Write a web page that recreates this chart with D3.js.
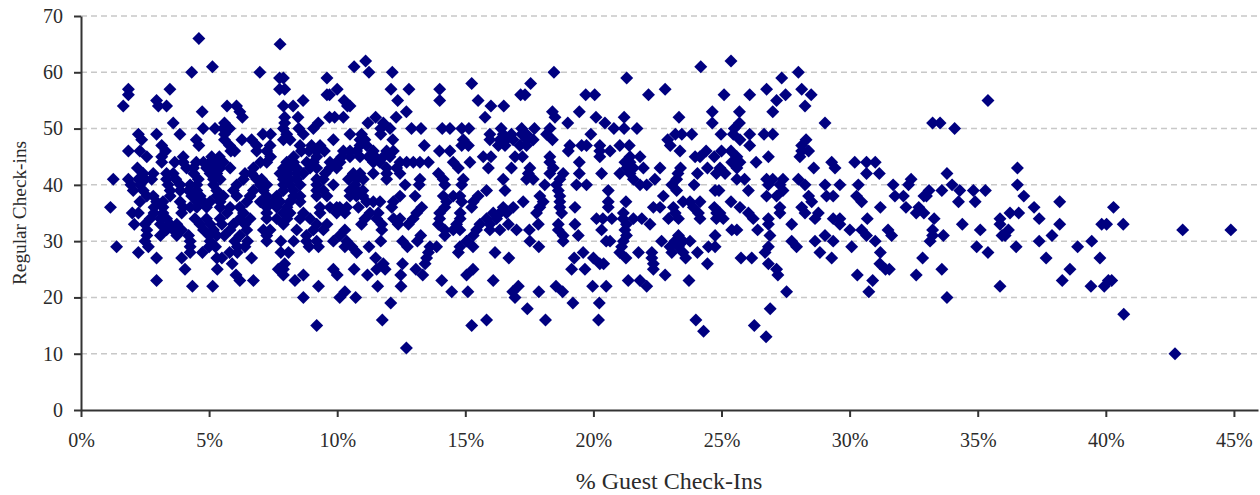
<!DOCTYPE html>
<html lang="en">
<head>
<meta charset="utf-8">
<title>Guest vs Regular Check-ins</title>
<script src="https://d3js.org/d3.v7.min.js"></script>
<style>
    html, body { margin: 0; padding: 0; background: #fff; overflow: hidden; }
    svg { display: block; }
    text { font-family: "Liberation Serif", "Times New Roman", serif; fill: #2b2b2b; }
    .axis text { font-size: 20px; }
    .axis path, .axis line { stroke: #333; stroke-width: 2px; }
    .grid line { stroke: #c8c8c8; stroke-width: 1.5px; stroke-dasharray: 6 4; }
    .x-title { font-size: 24px; }
    .y-title { font-size: 19.3px; }
</style>
</head>
<body>
<svg id="chart" width="1260" height="495"></svg>
<script>
// guest check-in % of each point, grouped by its regular check-in count
const r10 = [42.7];
const r11 = [12.7];
const r13 = [26.74];
const r14 = [24.3];
const r15 = [9.2, 15.25, 26.28];
const r16 = [11.76, 15.83, 18.13, 20.2, 24.0];
const r17 = [40.7];
const r18 = [17.42, 26.9];
const r19 = [12.09, 19.2, 20.23];
const r20 = [8.68, 10.1, 10.72, 16.94, 33.8];
const r21 = [10.3, 14.47, 15.1, 16.85, 17.87, 18.8, 27.54, 30.75];
const r22 = [4.35, 5.14, 9.27, 11.58, 12.49, 17.07, 18.54, 19.97, 20.5, 22.08, 35.87, 39.42, 39.94];
const r23 = [2.95, 6.2, 6.73, 8.35, 14.08, 16.09, 21.36, 21.82, 23.73, 30.9, 38.3, 40.23, 40.1];
const r24 = [6.05, 7.9, 8.68, 10.0, 11.18, 12.48, 13.34, 15.05, 22.8, 27.2, 30.3, 32.6];
const r25 = [4.06, 5.32, 7.7, 7.9, 9.85, 10.66, 11.54, 11.87, 13.07, 15.3, 19.15, 19.67, 22.34, 27.15, 31.4, 31.55, 33.6, 38.6];
const r26 = [5.9, 7.95, 11.8, 12.55, 13.43, 20.25, 20.4, 22.34, 24.45, 26.83, 31.18];
const r27 = [2.95, 3.93, 5.3, 5.5, 6.66, 11.5, 13.49, 16.7, 19.25, 20.0, 21.27, 22.28, 23.6, 25.76, 26.18, 29.3, 32.85, 37.67, 39.77];
const r28 = [2.24, 4.26, 4.74, 5.8, 6.1, 7.8, 8.1, 10.76, 13.56, 14.73, 16.16, 19.6, 21.03, 21.76, 22.28, 23.06, 23.5, 24.06, 26.7, 28.84, 31.2, 35.4];
const r29 = [1.39, 2.63, 4.26, 5.0, 5.25, 6.1, 6.4, 8.9, 9.27, 10.3, 10.57, 11.24, 12.74, 13.62, 13.88, 14.79, 15.3, 17.87, 21.1, 22.99, 23.32, 24.49, 24.75, 26.83, 27.93, 30.08, 34.96, 36.5, 38.9];
const r30 = [2.5, 4.26, 5.04, 6.0, 6.5, 7.25, 7.8, 8.3, 8.8, 9.2, 9.85, 10.37, 11.7, 12.55, 13.13, 15.05, 17.52, 18.82, 20.5, 20.65, 21.17, 22.66, 23.18, 23.5, 23.77, 27.74, 28.65, 29.36, 31.0, 33.14, 37.4, 39.45];
const r31 = [2.57, 3.1, 3.74, 4.2, 5.0, 5.3, 5.6, 6.2, 7.25, 8.8, 10.1, 13.26, 14.2, 15.31, 18.82, 19.41, 21.29, 23.32, 24.75, 26.89, 29.04, 30.66, 31.64, 33.24, 33.66, 35.95, 36.07, 37.9];
const r32 = [2.57, 3.34, 3.6, 3.93, 4.78, 5.17, 5.82, 6.47, 7.12, 7.38, 8.42, 9.07, 9.46, 10.3, 11.74, 14.2, 14.53, 14.79, 15.44, 15.96, 16.35, 17.0, 17.5, 18.63, 20.32, 21.23, 25.4, 25.6, 26.41, 30.01, 30.47, 31.5, 33.24, 35.1, 36.2, 43.0, 44.88];
const r33 = [2.08, 2.5, 3.1, 3.48, 3.74, 4.65, 5.04, 5.5, 5.95, 6.4, 7.9, 9.2, 9.6, 10.95, 11.74, 12.38, 12.78, 13.95, 14.66, 15.57, 15.96, 16.68, 17.85, 18.63, 19.28, 21.29, 22.21, 26.83, 27.74, 29.62, 34.4, 35.87, 38.2, 39.84, 40.03, 40.68];
const r34 = [2.7, 3.1, 3.34, 4.45, 4.9, 5.43, 6.2, 6.6, 7.25, 7.64, 8.04, 8.55, 8.94, 11.08, 11.54, 12.2, 12.45, 12.97, 14.0, 14.8, 15.83, 16.22, 20.12, 20.37, 20.72, 21.16, 21.56, 21.89, 22.93, 23.32, 24.16, 24.8, 25.07, 26.24, 26.83, 28.65, 29.36, 29.62, 30.69, 33.3, 35.87, 37.4];
const r35 = [2.0, 2.24, 2.85, 3.2, 3.93, 5.7, 6.34, 7.25, 7.9, 8.16, 8.68, 9.33, 9.98, 10.3, 11.28, 11.6, 13.1, 14.0, 14.8, 16.09, 16.35, 16.61, 17.78, 18.76, 21.17, 23.19, 24.1, 24.81, 24.94, 26.05, 27.28, 28.26, 28.78, 32.6, 32.9, 36.26, 36.6];
const r36 = [1.15, 2.85, 3.2, 3.99, 4.26, 4.52, 4.9, 5.43, 5.82, 6.2, 7.25, 7.64, 8.04, 9.33, 9.72, 9.98, 10.1, 10.37, 10.83, 12.13, 13.3, 14.2, 15.25, 16.48, 16.87, 17.91, 18.69, 19.28, 20.58, 22.34, 22.6, 23.12, 23.9, 24.72, 25.72, 27.28, 28.13, 31.2, 32.2, 32.7, 37.2, 40.3];
const r37 = [2.3, 2.95, 3.2, 3.87, 4.52, 4.78, 5.04, 5.43, 6.47, 7.0, 7.25, 7.5, 7.77, 8.16, 8.55, 11.15, 11.41, 11.67, 12.19, 14.27, 14.86, 15.31, 17.26, 18.04, 18.69, 20.58, 21.27, 23.5, 23.77, 24.16, 25.37, 28.52, 30.47, 34.25, 34.9, 38.2];
const r38 = [2.57, 2.82, 3.48, 4.32, 4.65, 5.3, 5.56, 6.08, 6.6, 7.25, 7.64, 8.3, 8.55, 9.2, 9.6, 10.5, 10.75, 11.0, 12.45, 13.04, 14.14, 14.53, 14.79, 15.5, 17.91, 18.69, 22.73, 26.76, 27.15, 28.4, 29.1, 29.36, 30.27, 31.77, 32.1, 32.9, 33.0, 36.8];
const r39 = [2.04, 2.43, 3.48, 3.87, 4.2, 4.52, 5.3, 5.95, 6.73, 7.12, 7.9, 8.3, 9.2, 9.46, 10.5, 10.76, 11.0, 15.83, 16.55, 18.63, 20.58, 23.25, 24.75, 24.9, 26.05, 27.4, 33.1, 33.6, 34.3, 34.83, 35.3];
const r40 = [1.95, 2.3, 3.4, 3.87, 4.26, 4.52, 5.17, 6.08, 7.0, 7.25, 7.9, 8.16, 8.55, 9.2, 9.85, 10.7, 12.65, 13.2, 14.2, 14.86, 18.1, 18.56, 19.34, 19.73, 21.82, 22.08, 23.06, 23.93, 26.83, 27.28, 28.26, 29.04, 29.62, 30.34, 31.7, 32.3, 34.0, 36.55];
const r41 = [1.26, 1.85, 2.24, 2.5, 2.76, 3.34, 3.7, 4.58, 5.17, 5.43, 6.34, 6.86, 7.05, 7.9, 8.16, 8.42, 9.2, 9.46, 10.44, 10.76, 11.02, 11.93, 13.23, 14.14, 14.92, 16.48, 17.39, 17.65, 18.69, 21.56, 22.4, 23.25, 25.6, 25.9, 26.76, 27.0, 27.4, 28.0, 32.4];
const r42 = [2.43, 2.82, 3.34, 3.6, 4.4, 5.04, 5.3, 6.4, 6.66, 7.77, 8.03, 8.42, 8.68, 9.53, 10.63, 10.89, 11.41, 11.93, 12.45, 13.95, 17.46, 18.3, 18.82, 19.45, 20.32, 21.03, 21.43, 23.3, 24.06, 24.8, 25.14, 30.66, 31.16, 33.8];
const r43 = [2.2, 4.12, 4.39, 4.9, 5.17, 5.43, 5.82, 6.73, 7.9, 8.16, 8.42, 8.94, 9.2, 9.72, 9.98, 11.93, 12.32, 14.73, 15.9, 16.8, 17.52, 18.43, 21.3, 21.56, 21.95, 22.6, 23.4, 24.45, 24.94, 25.6, 28.6, 29.43, 36.55];
const r44 = [3.15, 3.66, 3.99, 4.5, 4.78, 5.04, 5.3, 5.56, 7.0, 7.25, 8.03, 8.3, 8.81, 9.07, 9.72, 9.98, 10.11, 11.41, 11.67, 12.45, 12.71, 12.97, 13.23, 13.56, 14.53, 15.18, 18.3, 19.45, 21.23, 21.43, 25.4, 25.72, 26.35, 29.3, 30.2, 30.66, 31.0];
const r45 = [2.57, 3.15, 3.99, 5.1, 5.4, 7.4, 8.3, 9.2, 10.18, 10.5, 10.89, 11.22, 11.48, 11.8, 12.06, 15.7, 16.0, 16.94, 17.23, 18.3, 20.25, 21.43, 21.82, 23.97, 24.16, 24.72, 25.6, 26.83, 28.06];
const r46 = [1.85, 2.3, 3.3, 5.85, 6.0, 6.86, 7.25, 8.6, 8.9, 9.2, 9.5, 10.24, 10.5, 10.76, 11.41, 11.93, 12.19, 13.99, 14.4, 19.02, 20.25, 20.65, 23.38, 24.4, 25.0, 25.37, 28.13, 28.4];
const r47 = [3.15, 4.6, 5.8, 6.86, 7.38, 8.55, 9.0, 9.33, 10.89, 11.15, 13.4, 14.86, 15.12, 16.29, 16.55, 17.13, 17.39, 19.08, 19.54, 19.73, 20.25, 21.03, 21.4, 23.0, 26.1, 28.13];
const r48 = [2.37, 4.5, 5.6, 6.28, 6.66, 7.9, 8.16, 9.85, 10.89, 11.08, 12.17, 14.92, 15.96, 16.35, 16.6, 16.87, 17.39, 17.65, 18.4, 22.9, 25.72, 28.3];
const r49 = [2.24, 2.95, 3.86, 5.6, 7.1, 7.4, 8.03, 8.68, 10.5, 10.95, 11.7, 15.96, 16.48, 16.8, 17.2, 17.39, 18.17, 19.9, 23.2, 23.45, 23.84, 24.98, 25.46, 26.1, 26.66, 27.0];
const r50 = [4.77, 5.23, 5.55, 5.8, 7.9, 8.5, 9.07, 11.7, 12.06, 12.9, 13.27, 14.1, 14.4, 14.86, 15.14, 16.4, 17.2, 17.7, 18.3, 20.8, 21.2, 21.7, 25.5, 34.1];
const r51 = [3.6, 5.6, 7.95, 9.26, 11.2, 11.8, 19.0, 20.45, 24.64, 25.7, 29.04, 33.24, 33.53];
const r52 = [6.3, 7.95, 8.47, 9.7, 9.9, 10.24, 11.5, 12.3, 15.77, 18.5, 20.1, 21.2, 23.34];
const r53 = [4.73, 6.2, 12.7, 18.4, 19.45, 24.64, 25.7, 27.0];
const r54 = [1.65, 3.02, 3.34, 5.7, 6.07, 7.9, 8.28, 10.4, 10.5, 16.0, 16.5, 28.26];
const r55 = [2.95, 8.67, 10.27, 12.36, 14.0, 15.5, 27.15, 35.4];
const r56 = [1.85, 9.6, 9.7, 17.16, 17.33, 19.7, 20.05, 22.15, 25.1, 26.1, 27.5, 28.5];
const r57 = [1.85, 3.47, 7.75, 7.95, 10.0, 12.1, 12.8, 14.0, 22.8, 26.76, 28.13];
const r58 = [15.25, 17.55];
const r59 = [7.75, 7.9, 9.6, 21.3, 27.35];
const r60 = [4.32, 6.98, 11.24, 12.15, 18.46, 28.0];
const r61 = [5.13, 10.66, 24.19];
const r62 = [11.11, 25.37];
const r65 = [7.77];
const r66 = [4.6];

const regularCounts = [10, 11, 13, 14, 15, 16, 17, 18, 19, 20, 21, 22, 23, 24, 25, 26, 27, 28, 29, 30, 31, 32, 33, 34, 35, 36, 37, 38, 39, 40, 41, 42, 43, 44, 45, 46, 47, 48, 49, 50, 51, 52, 53, 54, 55, 56, 57, 58, 59, 60, 61, 62, 65, 66];
const guestRows = [r10, r11, r13, r14, r15, r16, r17, r18, r19, r20, r21, r22, r23, r24, r25, r26, r27, r28, r29, r30, r31, r32, r33, r34, r35, r36, r37, r38, r39, r40, r41, r42, r43, r44, r45, r46, r47, r48, r49, r50, r51, r52, r53, r54, r55, r56, r57, r58, r59, r60, r61, r62, r65, r66];

const xTicks = [0, 5, 10, 15, 20, 25, 30, 35, 40, 45];
const yTicks = [0, 10, 20, 30, 40, 50, 60, 70];

const svg = d3.select("#chart");

// plot area
const plotLeft = 81, plotRight = 1258, plotTop = 16, plotBottom = 410;

const xScale = d3.scaleLinear().domain([0, 45.94]).range([plotLeft, plotRight]);
const yScale = d3.scaleLinear().domain([0, 70]).range([plotBottom, plotTop]);

// dashed gridlines, none at zero
svg.append("g")
    .attr("class", "grid")
    .selectAll("line")
    .data(yTicks.filter(d => d > 0))
    .enter()
    .append("line")
    .attr("x1", plotLeft)
    .attr("x2", plotRight)
    .attr("y1", d => yScale(d))
    .attr("y2", d => yScale(d));

// flatten the rows into points
const points = guestRows.flatMap((row, i) => row.map(g => ({ guest: g, regular: regularCounts[i] })));

const diamond = d3.symbol().type(d3.symbolSquare).size(84);

svg.append("g")
    .selectAll("path")
    .data(points)
    .enter()
    .append("path")
    .attr("d", diamond)
    .attr("transform", d => `translate(${xScale(d.guest)},${yScale(d.regular)}) rotate(45)`)
    .style("fill", "#000080");

// axes
svg.append("g")
    .attr("class", "axis")
    .attr("transform", `translate(0,${plotBottom})`)
    .call(d3.axisBottom(xScale).tickValues(xTicks).tickFormat(d => d + "%").tickSize(7).tickSizeOuter(0).tickPadding(16));

svg.append("g")
    .attr("class", "axis")
    .attr("transform", `translate(${plotLeft},0)`)
    .call(d3.axisLeft(yScale).tickValues(yTicks).tickSize(7).tickSizeOuter(0).tickPadding(11));

// axis titles
svg.append("text")
    .attr("class", "x-title")
    .attr("text-anchor", "middle")
    .attr("x", 669)
    .attr("y", 489)
    .text("% Guest Check-Ins");

svg.append("text")
    .attr("class", "y-title")
    .attr("text-anchor", "middle")
    .attr("transform", "translate(26,213) rotate(-90)")
    .text("Regular Check-ins");
</script>
</body>
</html>
